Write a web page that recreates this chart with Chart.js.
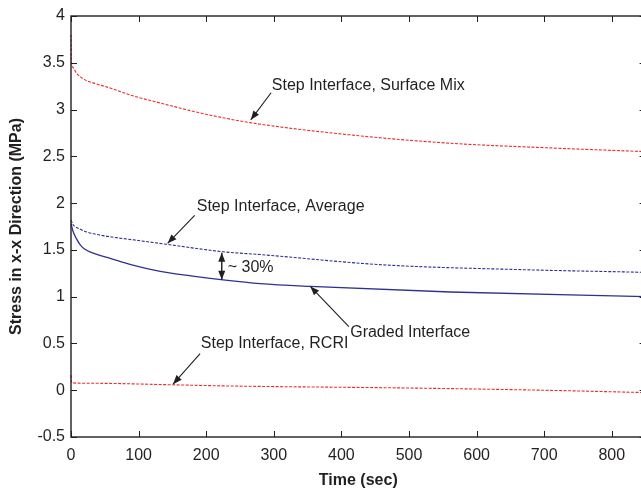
<!DOCTYPE html>
<html>
<head>
<meta charset="utf-8">
<script src="https://cdn.jsdelivr.net/npm/chart.js@4.4.1/dist/chart.umd.min.js"></script>
<style>
  html, body { margin: 0; padding: 0; background: #fff; overflow: hidden; }
  #wrap { width: 648px; height: 489px; }
</style>
</head>
<body>
<div id="wrap"><canvas id="stressChart" width="648" height="489"></canvas></div>
<script>
// Time (sec) and stress (MPa)
const surfaceMixTime = [0, 0.5, 3, 8, 14, 20, 35, 58, 90, 132, 170, 206, 265, 412, 561, 708, 850];
const surfaceMixStress = [3.80, 3.52, 3.45, 3.39, 3.35, 3.32, 3.28, 3.23, 3.15, 3.07, 3.00, 2.94, 2.86, 2.73, 2.64, 2.59, 2.55];

const averageTime = [0, 3, 8, 14, 20, 35, 58, 100, 141, 225, 280, 462, 660, 850];
const averageStress = [1.82, 1.77, 1.74, 1.72, 1.70, 1.67, 1.64, 1.60, 1.56, 1.48, 1.45, 1.34, 1.29, 1.26];

const gradedTime = [0, 3, 8, 14, 20, 35, 58, 90, 132, 180, 225, 280, 354, 561, 850];
const gradedStress = [1.78, 1.70, 1.62, 1.55, 1.51, 1.46, 1.41, 1.34, 1.27, 1.22, 1.18, 1.14, 1.11, 1.05, 1.00];

const rcriTime = [0, 1, 20, 151, 220, 516, 698, 850];
const rcriStress = [0.16, 0.08, 0.075, 0.058, 0.047, 0.022, 0.0, -0.025];

// annotation labels: text, text anchor (t, v), arrow from (t, v) to (t, v)
const noteLabels = ['Step Interface, Surface Mix', 'Step Interface, Average', 'Graded Interface', 'Step Interface, RCRI'];
const noteTextAt = [[297, 3.26], [186, 1.96], [413, 0.62], [192, 0.50]];
const noteArrowFrom = [[296, 3.18], [183, 1.87], [411, 0.68], [191, 0.39]];
const noteArrowTo = [[266, 2.89], [143, 1.57], [354, 1.11], [151, 0.065]];

const gapLabel = '~ 30%';
const gapTime = 223;
const gapTop = 1.47;
const gapBottom = 1.18;

const xTicks = [0, 100, 200, 300, 400, 500, 600, 700, 800];

const TEXT = '#231f20';
const FONT = '"Liberation Sans", Arial, Helvetica, sans-serif';

function pairs(ts, vs) {
    return ts.map((t, i) => ({ x: t, y: vs[i] }));
}

function arrowHead(ctx, x0, y0, x1, y1, len, half) {
    const a = Math.atan2(y1 - y0, x1 - x0);
    ctx.beginPath();
    ctx.moveTo(x1, y1);
    ctx.lineTo(x1 - len * Math.cos(a) + half * Math.sin(a), y1 - len * Math.sin(a) - half * Math.cos(a));
    ctx.lineTo(x1 - len * Math.cos(a) - half * Math.sin(a), y1 - len * Math.sin(a) + half * Math.cos(a));
    ctx.closePath();
    ctx.fill();
}

// frame with inward ticks on all four sides, MATLAB style
const framePlugin = {
    id: 'frame',
    afterDraw(chart) {
        const { ctx, chartArea: a, scales } = chart;
        ctx.save();
        ctx.strokeStyle = TEXT;
        ctx.lineWidth = 1.4;
        ctx.strokeRect(a.left, a.top, a.right - a.left, a.bottom - a.top);
        ctx.lineWidth = 1;
        ctx.beginPath();
        scales.x.ticks.forEach(t => {
            const px = Math.round(scales.x.getPixelForValue(t.value)) + 0.5;
            ctx.moveTo(px, a.bottom); ctx.lineTo(px, a.bottom - 6);
            ctx.moveTo(px, a.top); ctx.lineTo(px, a.top + 6);
        });
        scales.y.ticks.forEach(t => {
            const py = Math.round(scales.y.getPixelForValue(t.value)) + 0.5;
            ctx.moveTo(a.left, py); ctx.lineTo(a.left + 6, py);
            ctx.moveTo(a.right, py); ctx.lineTo(a.right - 6, py);
        });
        ctx.stroke();
        ctx.restore();
    }
};

const notesPlugin = {
    id: 'notes',
    afterDatasetsDraw(chart) {
        const { ctx, scales: { x, y } } = chart;
        ctx.save();
        ctx.fillStyle = TEXT;
        ctx.strokeStyle = TEXT;
        ctx.lineWidth = 1.1;
        ctx.font = '16px ' + FONT;
        ctx.textBaseline = 'middle';
        ctx.textAlign = 'left';
        noteLabels.forEach((label, i) => {
            ctx.fillText(label, x.getPixelForValue(noteTextAt[i][0]), y.getPixelForValue(noteTextAt[i][1]));
            const x0 = x.getPixelForValue(noteArrowFrom[i][0]), y0 = y.getPixelForValue(noteArrowFrom[i][1]);
            const x1 = x.getPixelForValue(noteArrowTo[i][0]), y1 = y.getPixelForValue(noteArrowTo[i][1]);
            ctx.beginPath();
            ctx.moveTo(x0, y0);
            ctx.lineTo(x1, y1);
            ctx.stroke();
            arrowHead(ctx, x0, y0, x1, y1, 9, 3.5);
        });

        // double arrow showing the ~30% gap
        const gx = x.getPixelForValue(gapTime);
        const gy0 = y.getPixelForValue(gapTop), gy1 = y.getPixelForValue(gapBottom);
        ctx.lineWidth = 1.4;
        ctx.beginPath();
        ctx.moveTo(gx, gy0); ctx.lineTo(gx, gy1);
        ctx.stroke();
        arrowHead(ctx, gx, gy1, gx, gy0, 9, 3.5);
        arrowHead(ctx, gx, gy0, gx, gy1, 9, 3.5);
        ctx.fillText(gapLabel, gx + 6, (gy0 + gy1) / 2 + 1);
        ctx.restore();
    }
};

function createStressChart() {
    const ctx = document.getElementById('stressChart').getContext('2d');

    new Chart(ctx, {
        type: 'line',
        data: {
            datasets: [
                {
                    label: noteLabels[0],
                    data: pairs(surfaceMixTime, surfaceMixStress),
                    borderColor: '#ee2a2f',
                    borderWidth: 1.1,
                    borderDash: [3, 1.5],
                    cubicInterpolationMode: 'monotone',
                },
                {
                    label: noteLabels[1],
                    data: pairs(averageTime, averageStress),
                    borderColor: '#2e3192',
                    borderWidth: 1.1,
                    borderDash: [3, 1.5],
                    cubicInterpolationMode: 'monotone',
                },
                {
                    label: noteLabels[2],
                    data: pairs(gradedTime, gradedStress),
                    borderColor: '#2e3192',
                    borderWidth: 1.3,
                    cubicInterpolationMode: 'monotone',
                },
                {
                    label: noteLabels[3],
                    data: pairs(rcriTime, rcriStress),
                    borderColor: '#ee2a2f',
                    borderWidth: 1.1,
                    borderDash: [3, 1.5],
                    cubicInterpolationMode: 'monotone',
                },
            ]
        },
        options: {
            responsive: false,
            animation: false,
            clip: false,
            elements: { point: { radius: 0 } },
            layout: { padding: { left: 0, right: 2.4, top: 16, bottom: 0 } },
            plugins: {
                legend: { display: false },
                tooltip: { enabled: false },
            },
            scales: {
                x: {
                    type: 'linear',
                    min: 0,
                    max: 850,
                    afterBuildTicks: axis => { axis.ticks = xTicks.map(v => ({ value: v })); },
                    afterFit: axis => { axis.height = 52; },
                    grid: { display: false, drawTicks: false },
                    border: { display: false },
                    ticks: {
                        color: TEXT,
                        padding: 9,
                        font: { size: 16, family: FONT },
                    },
                    title: {
                        display: true,
                        text: 'Time (sec)',
                        color: TEXT,
                        padding: { top: 0, bottom: 0 },
                        font: { size: 16, weight: 'bold', family: FONT, lineHeight: 1 },
                    },
                },
                y: {
                    min: -0.5,
                    max: 4,
                    afterFit: axis => { axis.width = 71; },
                    grid: { display: false, drawTicks: false },
                    border: { display: false },
                    ticks: {
                        stepSize: 0.5,
                        color: TEXT,
                        padding: 6,
                        font: { size: 16, family: FONT },
                        callback: v => String(Math.round(v * 10) / 10),
                    },
                    title: {
                        display: true,
                        text: 'Stress in x-x Direction (MPa)',
                        color: TEXT,
                        padding: { top: 9, bottom: 0 },
                        font: { size: 16, weight: 'bold', family: FONT, lineHeight: 1 },
                    },
                },
            },
        },
        plugins: [notesPlugin, framePlugin],
    });
}

window.onload = function() {
    createStressChart();
};
</script>
</body>
</html>
